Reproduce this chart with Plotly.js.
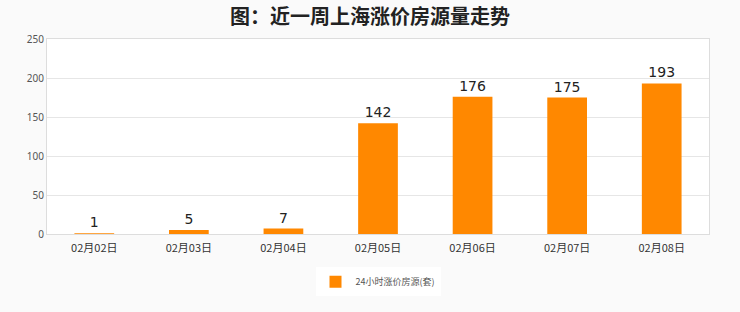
<!DOCTYPE html>
<html><head><meta charset="utf-8">
<script src="https://cdn.plot.ly/plotly-3.0.1.min.js"></script>
<style>html,body{margin:0;padding:0;background:#fafafa;}</style>
</head><body>
<div id="chart" style="width:740px;height:312px;"></div>
<script>
const categories = ["02月02日","02月03日","02月04日","02月05日","02月06日","02月07日","02月08日"];
const values = [1,5,7,142,176,175,193];
const seriesName = "24小时涨价房源(套)";
const yTicks = [0,50,100,150,200,250];

const trace = {
  type: "bar", x: categories, y: values, name: seriesName,
  marker: {color: "#ff8800"}, width: 0.42,
  text: values.map(String), textposition: "outside", cliponaxis: false,
  textfont: {family: "DejaVu Sans, sans-serif", size: 14, color: "#222"},
  showlegend: true
};
const layout = {
  width: 740, height: 312,
  paper_bgcolor: "#fafafa", plot_bgcolor: "#ffffff",
  margin: {l: 47, r: 31, t: 39, b: 78, autoexpand: false},
  title: {text: "图：近一周上海涨价房源量走势", x: 0.5, xanchor: "center", y: 0.945, yanchor: "middle",
    font: {family: "Noto Sans CJK SC", size: 20, color: "#222", weight: "bold"}},
  xaxis: {type: "category", showgrid: false, showline: true, linecolor: "#ddd", mirror: true,
    ticks: "", ticklabelstandoff: 4, tickfont: {family: "Noto Sans CJK SC", size: 11, color: "#333"}},
  yaxis: {range: [0, 250], tickvals: yTicks, showgrid: true, gridcolor: "#e6e6e6",
    showline: true, linecolor: "#ddd", mirror: true, zeroline: false,
    tickfont: {family: "Noto Sans, sans-serif", size: 10, color: "#555"}, ticks: ""},
  legend: {orientation: "h", x: 0.5, xanchor: "center", y: -0.245, yanchor: "middle",
    bgcolor: "#ffffff", font: {family: "Noto Sans CJK SC", size: 9, color: "#555"}}
};
Plotly.newPlot("chart", [trace], layout, {displayModeBar: false, staticPlot: true});
</script>
</body></html>
